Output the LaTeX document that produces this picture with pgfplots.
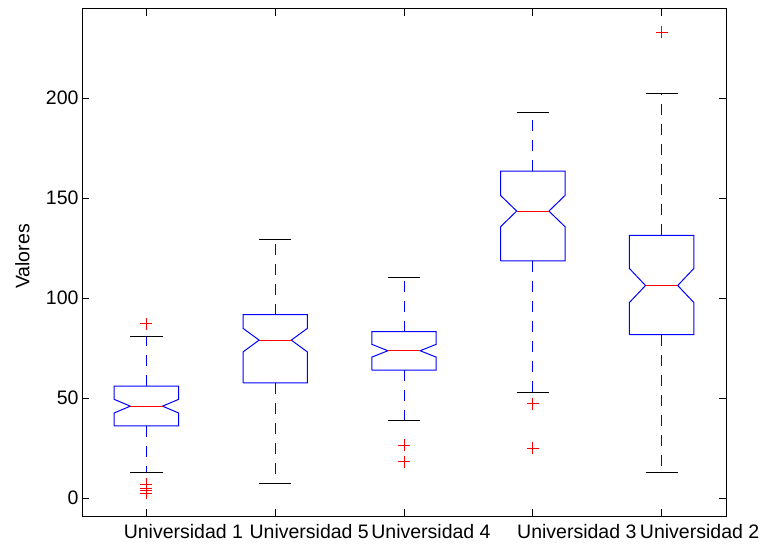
\documentclass[border=0pt]{standalone}
\usepackage{fontspec}
\setmainfont{Liberation Sans}
\usepackage{pgfplots}
\pgfplotsset{compat=1.18}
\definecolor{mblue}{RGB}{0,0,255}
\definecolor{mred}{RGB}{255,0,0}
\begin{document}
\begin{tikzpicture}
\begin{axis}[
  scale only axis, width=644bp, height=507bp,
  xmin=0.5, xmax=5.5, ymin=-8.9, ymax=244.5,
  xtick={1,2,3,4,5},
  xticklabels={\hspace*{74bp}Universidad 1,\hspace*{68bp}Universidad 5,\hspace*{54bp}Universidad 4,\hspace*{88bp}Universidad 3,\hspace*{76bp}Universidad 2},
  ytick={0,50,100,150,200},
  tick align=inside, major tick length=7bp,
  every tick/.style={black, line width=0.8bp},
  axis line style={line width=1bp},
  ticklabel style={font=\fontsize{19.5bp}{23bp}\selectfont},
  xticklabel style={yshift=-4.5bp},
  /pgf/number format/assume math mode=true,
  ylabel={Valores},
  ylabel style={font=\fontsize{19.5bp}{23bp}\selectfont, at={(axis description cs:-0.076,0.512)}, anchor=south},
  unbounded coords=jump,
]
% boxes (notched)
\addplot[mblue, line width=1bp] coordinates {(0.75,36.2) (0.75,42.6) (0.875,46.0) (0.75,49.4) (0.75,56.0) (1.25,56.0) (1.25,49.4) (1.125,46.0) (1.25,42.6) (1.25,36.2) (0.75,36.2)};
\addplot[mblue, line width=1bp] coordinates {(1.75,57.7) (1.75,73.1) (1.875,79.0) (1.75,84.9) (1.75,91.7) (2.25,91.7) (2.25,84.9) (2.125,79.0) (2.25,73.1) (2.25,57.7) (1.75,57.7)};
\addplot[mblue, line width=1bp] coordinates {(2.75,64.0) (2.75,70.5) (2.875,73.7) (2.75,76.9) (2.75,83.3) (3.25,83.3) (3.25,76.9) (3.125,73.7) (3.25,70.5) (3.25,64.0) (2.75,64.0)};
\addplot[mblue, line width=1bp] coordinates {(3.75,118.6) (3.75,135.7) (3.875,143.5) (3.75,151.3) (3.75,163.5) (4.25,163.5) (4.25,151.3) (4.125,143.5) (4.25,135.7) (4.25,118.6) (3.75,118.6)};
\addplot[mblue, line width=1bp] coordinates {(4.75,81.7) (4.75,97.8) (4.875,106.3) (4.75,114.8) (4.75,131.3) (5.25,131.3) (5.25,114.8) (5.125,106.3) (5.25,97.8) (5.25,81.7) (4.75,81.7)};
% whiskers
\addplot[mblue, line width=1bp, dash pattern=on 11bp off 9bp] coordinates {
 (1,56.0) (1,80.9) (nan,nan) (1,36.2) (1,12.7) (nan,nan)
 (2,91.7) (2,129.4) (nan,nan) (2,57.7) (2,7.5) (nan,nan)
 (3,83.3) (3,110.4) (nan,nan) (3,64.0) (3,39.0) (nan,nan)
 (4,163.5) (4,192.7) (nan,nan) (4,118.6) (4,53.0) (nan,nan)
 (5,131.3) (5,202.4) (nan,nan) (5,81.7) (5,12.7)};
% caps
\addplot[black, line width=1bp] coordinates {
 (0.875,80.9) (1.125,80.9) (nan,nan) (0.875,12.7) (1.125,12.7) (nan,nan)
 (1.875,129.4) (2.125,129.4) (nan,nan) (1.875,7.5) (2.125,7.5) (nan,nan)
 (2.875,110.4) (3.125,110.4) (nan,nan) (2.875,39.0) (3.125,39.0) (nan,nan)
 (3.875,192.7) (4.125,192.7) (nan,nan) (3.875,53.0) (4.125,53.0) (nan,nan)
 (4.875,202.4) (5.125,202.4) (nan,nan) (4.875,12.7) (5.125,12.7)};
% medians
\addplot[mred, line width=1bp] coordinates {
 (0.875,46.0) (1.125,46.0) (nan,nan)
 (1.875,79.0) (2.125,79.0) (nan,nan)
 (2.875,73.7) (3.125,73.7) (nan,nan)
 (3.875,143.5) (4.125,143.5) (nan,nan)
 (4.875,106.3) (5.125,106.3)};
% outliers
\addplot[only marks, mark=+, mark size=6bp, mred, line width=0.9bp] coordinates {
 (1,87.1) (1,7.0) (1,4.9) (1,3.8) (1,2.6)
 (3,26.6) (3,18.3)
 (4,47.3) (4,25.0)
 (5,233.0)};
\end{axis}
\pgfresetboundingbox
\path ([shift={(-82bp,-28bp)}]current axis.south west) rectangle ([shift={(35bp,9bp)}]current axis.north east);
\end{tikzpicture}
\end{document}
